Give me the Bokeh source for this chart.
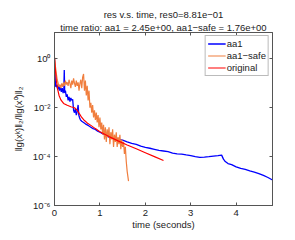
from bokeh.plotting import figure
from bokeh.models import (Range1d, FixedTicker, LinearAxis, LogAxis, Title,
                          Legend, LegendItem)
from bokeh.embed import file_html
from bokeh.resources import INLINE

# ---------------- data ----------------
aa1_t = [0.00, 0.01, 0.02, 0.03, 0.05, 0.07, 0.09, 0.11, 0.13, 0.15, 0.17, 0.19,
         0.205, 0.215, 0.225, 0.24, 0.26, 0.28, 0.30, 0.32, 0.34, 0.36, 0.38, 0.40,
         0.42, 0.44, 0.46, 0.48, 0.50, 0.52, 0.535, 0.55, 0.57, 0.60, 0.64, 0.68,
         0.72, 0.76, 0.80, 0.85, 0.90, 0.95, 1.00, 1.10, 1.20, 1.30, 1.40, 1.50,
         1.60, 1.70, 1.80, 1.90, 2.00, 2.10, 2.20, 2.30, 2.40, 2.50, 2.60, 2.70,
         2.80, 2.90, 3.00, 3.10, 3.20, 3.30, 3.40, 3.50, 3.60, 3.68, 3.72, 3.76,
         3.82, 3.90, 4.00, 4.10, 4.20, 4.30, 4.40, 4.50, 4.60, 4.70, 4.80]
aa1_res = [1.0e0, 2.5e-1, 1.0e-1, 7.1e-2, 8.9e-2, 5.6e-2, 7.9e-2, 5.0e-2, 7.1e-2, 4.5e-2, 6.3e-2, 4.0e-2,
           5.6e-2, 3.5e-1, 4.0e-2, 5.0e-2, 2.8e-2, 3.5e-2, 2.0e-2, 2.8e-2, 1.8e-2, 2.5e-2, 2.0e-2, 2.2e-2,
           7.9e-3, 6.3e-3, 8.9e-3, 5.0e-3, 7.1e-3, 1.3e-2, 5.0e-3, 4.0e-3, 3.2e-3, 2.8e-3, 2.5e-3, 2.2e-3,
           2.0e-3, 1.8e-3, 1.6e-3, 1.4e-3, 1.3e-3, 1.1e-3, 1.0e-3, 7.9e-4, 6.3e-4, 5.6e-4, 5.2e-4, 4.7e-4,
           4.0e-4, 3.5e-4, 3.2e-4, 2.7e-4, 2.4e-4, 2.2e-4, 2.0e-4, 1.8e-4, 1.7e-4, 1.6e-4, 1.4e-4, 1.3e-4,
           1.26e-4, 1.17e-4, 1.1e-4, 1.0e-4, 9.3e-5, 9.6e-5, 1.0e-4, 1.05e-4, 1.1e-4, 1.15e-4, 7.9e-5, 6.3e-5,
           5.2e-5, 4.7e-5, 3.8e-5, 3.3e-5, 3.0e-5, 2.6e-5, 2.3e-5, 2.0e-5, 1.7e-5, 1.4e-5, 1.1e-5]

safe_t = [0.00, 0.02, 0.04, 0.06, 0.08, 0.10, 0.12, 0.14, 0.16, 0.18, 0.20, 0.22,
          0.24, 0.26, 0.28, 0.30, 0.32, 0.34, 0.36, 0.38, 0.40, 0.42, 0.44, 0.46,
          0.48, 0.50, 0.52, 0.54, 0.56, 0.58, 0.60, 0.62, 0.64, 0.66, 0.68, 0.70,
          0.72, 0.74, 0.76, 0.78, 0.80, 0.82, 0.84, 0.86, 0.88, 0.90, 0.92, 0.94,
          0.96, 0.98, 1.00, 1.02, 1.04, 1.06, 1.08, 1.10, 1.12, 1.14, 1.16, 1.18,
          1.20, 1.22, 1.24, 1.26, 1.28, 1.30, 1.32, 1.34, 1.36, 1.38, 1.40, 1.42,
          1.44, 1.46, 1.48, 1.50, 1.52, 1.54, 1.56, 1.58, 1.60, 1.63]
safe_res = [1.2e0, 5.0e-1, 2.5e-1, 1.4e-1, 1.0e-1, 7.1e-2, 8.9e-2, 6.3e-2, 1.0e-1, 7.1e-2, 1.1e-1, 7.9e-2,
            1.3e-1, 8.9e-2, 1.1e-1, 7.9e-2, 1.4e-1, 1.0e-1, 6.3e-2, 1.3e-1, 8.9e-2, 1.6e-1, 1.0e-1, 7.1e-2,
            1.3e-1, 7.9e-2, 1.1e-1, 5.0e-2, 1.0e-1, 1.4e-1, 6.3e-2, 1.8e-1, 2.4e-1, 5.0e-2, 1.3e-1, 3.2e-2,
            7.9e-2, 2.0e-2, 5.0e-2, 1.0e-2, 1.6e-2, 6.3e-3, 1.3e-2, 4.0e-3, 7.9e-3, 3.2e-3, 6.3e-3, 2.5e-3,
            5.0e-3, 1.6e-3, 4.0e-3, 1.3e-3, 2.5e-3, 7.9e-4, 2.0e-3, 5.0e-4, 1.6e-3, 4.0e-4, 1.3e-3, 6.3e-4,
            1.6e-3, 3.2e-4, 1.0e-3, 5.0e-4, 1.3e-3, 2.5e-4, 7.9e-4, 4.0e-4, 1.0e-3, 2.5e-4, 6.3e-4, 3.2e-4,
            7.9e-4, 2.0e-4, 5.0e-4, 2.5e-4, 4.0e-4, 1.3e-4, 2.5e-4, 6.3e-5, 2.5e-5, 1.0e-5]

orig_t = [0.00, 0.02, 0.04, 0.07, 0.10, 0.14, 0.20, 0.28, 0.36, 0.44, 0.50, 0.55,
          0.60, 0.66, 0.72, 0.80, 0.90, 1.00, 1.20, 1.40, 1.60, 1.80, 2.00, 2.20, 2.40]
orig_res = [1.1e0, 3.5e-1, 1.3e-1, 5.6e-2, 3.2e-2, 2.1e-2, 1.5e-2, 1.26e-2, 1.1e-2, 1.0e-2, 7.9e-3, 5.6e-3,
            4.0e-3, 3.0e-3, 2.4e-3, 1.9e-3, 1.4e-3, 1.05e-3, 6.6e-4, 4.4e-4, 3.0e-4, 2.1e-4, 1.45e-4, 1.0e-4, 6.9e-5]

series_names = ["aa1", "aa1\u2212safe", "original"]
series_colors = ["#0000FF", "#F07E3E", "#FF0000"]

x_ticks = [0, 1, 2, 3, 4]
y_ticks = [1e-6, 1e-4, 1e-2, 1e0]
y_tick_labels = {1e-6: "10\u207b\u2076", 1e-4: "10\u207b\u2074", 1e-2: "10\u207b\u00b2", 1e0: "10\u2070"}

title_line1 = "res v.s. time, res0=8.81e\u221201"
title_line2 = "time ratio: aa1 = 2.45e+00, aa1\u2212safe = 1.76e+00"
x_label = "time (seconds)"
y_label = "\u2016g(x\u1d4f)\u2016\u2082/\u2016g(x\u2070)\u2016\u2082"

FONT = "Liberation Sans"
AX = "#555555"

p = figure(width=286, height=232, output_backend="svg", toolbar_location=None,
           y_axis_type="log", x_range=Range1d(0, 4.8), y_range=Range1d(1e-6, 12),
           min_border_left=54, min_border_right=14, min_border_top=32, min_border_bottom=23,
           title=None)
p.background_fill_color = "white"
p.border_fill_color = "white"
p.outline_line_color = AX
p.grid.visible = False

r_aa1 = p.line(aa1_t, aa1_res, line_color=series_colors[0], line_width=1.3)
r_safe = p.line(safe_t, safe_res, line_color=series_colors[1], line_width=1.2)
r_orig = p.line(orig_t, orig_res, line_color=series_colors[2], line_width=1.2)

def style(ax, labels=True):
    ax.axis_line_color = AX
    ax.major_tick_line_color = AX
    ax.major_tick_in = 3
    ax.major_tick_out = 0
    ax.minor_tick_in = 0
    ax.minor_tick_out = 0
    ax.major_label_text_font = FONT
    ax.major_label_text_font_size = "9.5px"
    ax.major_label_text_color = "#222222"
    ax.axis_label_text_font = FONT
    ax.axis_label_text_font_size = "9.5px"
    ax.axis_label_text_font_style = "normal"
    ax.axis_label_text_color = "#222222"
    if not labels:
        ax.major_label_text_font_size = "1px"
        ax.major_label_text_alpha = 0
        ax.major_label_standoff = 0

xa = p.xaxis[0]
xa.ticker = FixedTicker(ticks=x_ticks)
xa.axis_label = x_label
style(xa)
xa.major_label_standoff = 4
xa.axis_label_standoff = 0

ya = p.yaxis[0]
ya.ticker = FixedTicker(ticks=y_ticks)
ya.major_label_overrides = y_tick_labels
ya.axis_label = y_label
style(ya)
ya.major_label_standoff = 4
ya.axis_label_standoff = 6

xt = LinearAxis(ticker=FixedTicker(ticks=x_ticks))
style(xt, labels=False)
p.add_layout(xt, "above")
yr = LogAxis(ticker=FixedTicker(ticks=y_ticks))
style(yr, labels=False)
p.add_layout(yr, "right")

t2 = Title(text=title_line2, align="center", text_font=FONT, text_font_size="9.5px",
           text_font_style="normal", text_color="#222222", standoff=0, offset=0)
t1 = Title(text=title_line1, align="center", text_font=FONT, text_font_size="9.5px",
           text_font_style="normal", text_color="#222222", standoff=0, offset=0)
p.add_layout(t2, "above")
p.add_layout(t1, "above")

legend = Legend(items=[LegendItem(label=series_names[0], renderers=[r_aa1]),
                       LegendItem(label=series_names[1], renderers=[r_safe]),
                       LegendItem(label=series_names[2], renderers=[r_orig])],
                location="top_right")
legend.label_text_font = FONT
legend.label_text_font_size = "9.5px"
legend.label_text_color = "#222222"
legend.glyph_width = 18
legend.glyph_height = 9
legend.label_height = 10
legend.label_standoff = 1
legend.spacing = 1
legend.padding = 2
legend.margin = 3
legend.border_line_color = "#777777"
legend.border_line_width = 1
legend.background_fill_alpha = 1
p.add_layout(legend)

open("out.html", "w").write(file_html(p, INLINE))
